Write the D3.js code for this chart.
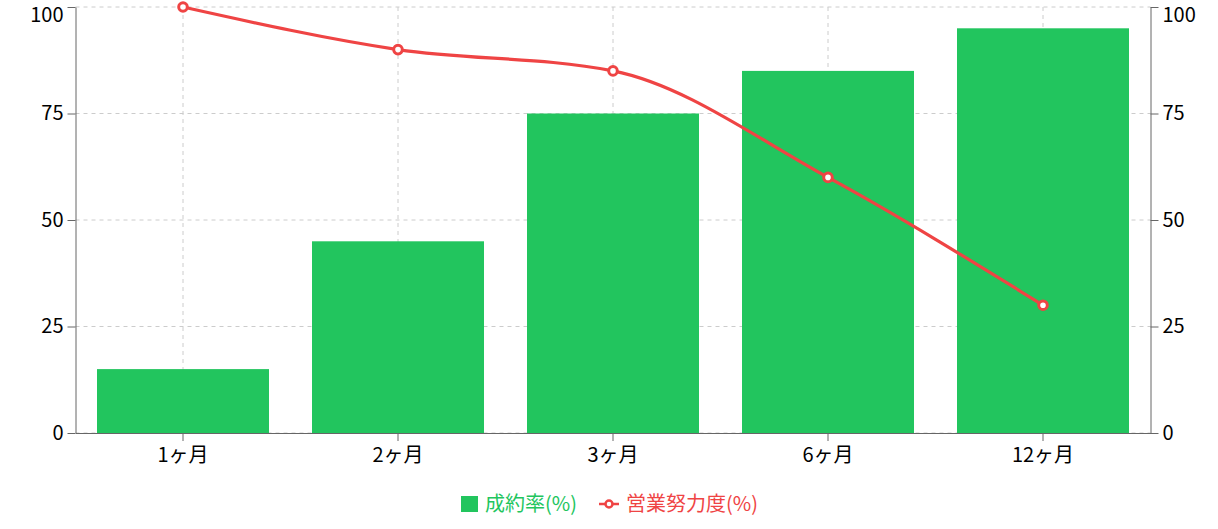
<!DOCTYPE html>
<html>
<head>
<meta charset="utf-8">
<script src="https://cdn.jsdelivr.net/npm/d3@7"></script>
<style>
  html, body { margin: 0; padding: 0; background: #fff; }
  svg { display: block; font-family: "Noto Sans CJK JP", "Noto Sans", sans-serif; }
</style>
</head>
<body>
<svg id="chart" width="1218" height="529"></svg>
<script>
const categories = ["1ヶ月", "2ヶ月", "3ヶ月", "6ヶ月", "12ヶ月"];
const closingRate = [15, 45, 75, 85, 95];      // 成約率(%)
const salesEffort = [100, 90, 85, 60, 30];     // 営業努力度(%)
const yTicks = [0, 25, 50, 75, 100];
const seriesNames = ["成約率(%)", "営業努力度(%)"];

const GREEN = "#22c55e";
const RED = "#ef4444";
const AXIS = "#666";
const GRID = "#ccc";
const FS = 20;

const svg = d3.select("#chart");
const pLeft = 75.5, pRight = 1150.5, pTop = 7, pBottom = 433;

const x = d3.scaleBand().domain(categories).range([pLeft, pRight]).padding(0);
const yL = d3.scaleLinear().domain([0, 100]).range([pBottom, pTop]);
const yR = d3.scaleLinear().domain([0, 100]).range([pBottom, pTop]);

// grid
const grid = svg.append("g");
grid.selectAll("line.h").data(yTicks).join("line")
  .attr("x1", pLeft).attr("x2", pRight)
  .attr("y1", d => yL(d)).attr("y2", d => yL(d))
  .attr("stroke", GRID).attr("stroke-dasharray", "4 4");
grid.selectAll("line.v").data(categories).join("line")
  .attr("x1", d => x(d) + x.bandwidth() / 2).attr("x2", d => x(d) + x.bandwidth() / 2)
  .attr("y1", pTop).attr("y2", pBottom)
  .attr("stroke", GRID).attr("stroke-dasharray", "4 4");

// bars
const bw = x.bandwidth();
svg.append("g").selectAll("rect").data(closingRate).join("rect")
  .attr("x", (d, i) => x(categories[i]) + bw * 0.1)
  .attr("width", bw * 0.8)
  .attr("y", d => yL(d))
  .attr("height", d => pBottom - yL(d))
  .attr("fill", GREEN);

// axes
function styleAxis(g) {
  g.selectAll(".domain").attr("stroke", AXIS);
  g.selectAll(".tick line").attr("stroke", AXIS);
  g.selectAll(".tick text").attr("fill", "#000").attr("font-size", FS);
  g.attr("font-family", null).attr("font-size", null);
}
function shiftTop(g) {
  g.selectAll(".tick text").filter(d => d === 100).attr("dy", "0.7em");
}
svg.append("g").attr("transform", `translate(0,${pBottom})`)
  .call(d3.axisBottom(x).tickSizeInner(8).tickSizeOuter(0).tickPadding(3))
  .call(styleAxis)
  .call(g => g.selectAll(".tick text").attr("dy", "0.9em"));
svg.append("g").attr("transform", `translate(${pLeft},0)`)
  .call(d3.axisLeft(yL).tickValues(yTicks).tickSizeInner(8).tickSizeOuter(0).tickPadding(4))
  .call(styleAxis).call(shiftTop);
svg.append("g").attr("transform", `translate(${pRight},0)`)
  .call(d3.axisRight(yR).tickValues(yTicks).tickSizeInner(8).tickSizeOuter(0).tickPadding(4))
  .call(styleAxis).call(shiftTop);

// line
const cx = (d, i) => x(categories[i]) + bw / 2;
const line = d3.line().x(cx).y(d => yR(d)).curve(d3.curveMonotoneX);
svg.append("path").datum(salesEffort)
  .attr("d", line).attr("fill", "none").attr("stroke", RED).attr("stroke-width", 3.2);
svg.append("g").selectAll("circle").data(salesEffort).join("circle")
  .attr("cx", cx).attr("cy", d => yR(d)).attr("r", 4.3)
  .attr("fill", "#fff").attr("stroke", RED).attr("stroke-width", 3);

// legend
const lg = svg.append("g");
const ly = 504;
lg.append("rect").attr("x", 461).attr("y", ly - 8).attr("width", 17).attr("height", 16).attr("fill", GREEN);
lg.append("text").attr("x", 485).attr("y", ly).attr("dy", "0.35em")
  .attr("font-size", FS).attr("fill", GREEN).text(seriesNames[0]);
lg.append("line").attr("x1", 599).attr("x2", 619).attr("y1", ly).attr("y2", ly)
  .attr("stroke", RED).attr("stroke-width", 2.5);
lg.append("circle").attr("cx", 609).attr("cy", ly).attr("r", 3.5)
  .attr("fill", "#fff").attr("stroke", RED).attr("stroke-width", 2.5);
lg.append("text").attr("x", 626).attr("y", ly).attr("dy", "0.35em")
  .attr("font-size", FS).attr("fill", RED).text(seriesNames[1]);
</script>
</body>
</html>
